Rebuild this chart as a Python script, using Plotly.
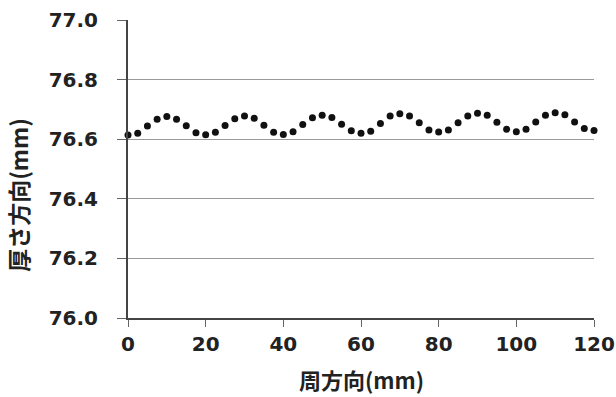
import plotly.graph_objects as go

x_pos = [i * 2.5 for i in range(49)]
thickness = [
    76.614, 76.620, 76.644, 76.667, 76.676, 76.667, 76.645, 76.622,
    76.615, 76.623, 76.646, 76.669, 76.678, 76.670, 76.647, 76.623,
    76.616, 76.625, 76.649, 76.672, 76.680, 76.673, 76.650, 76.628,
    76.620, 76.627, 76.653, 76.678, 76.685, 76.678, 76.655, 76.631,
    76.624, 76.631, 76.655, 76.678, 76.687, 76.680, 76.657, 76.633,
    76.625, 76.633, 76.658, 76.680, 76.689, 76.682, 76.658, 76.636,
    76.629,
]
x_ticks = [0, 20, 40, 60, 80, 100, 120]
y_ticks = [76.0, 76.2, 76.4, 76.6, 76.8, 77.0]
y_tick_text = ["76.0", "76.2", "76.4", "76.6", "76.8", "77.0"]

fig = go.Figure()
fig.add_trace(go.Scatter(
    x=x_pos, y=thickness, mode="markers",
    marker=dict(color="#111111", size=7),
    cliponaxis=False, showlegend=False,
))

tick_font = dict(family="DejaVu Sans", size=20, color="#222222", weight="bold")
fig.update_layout(
    width=616, height=397,
    margin=dict(l=128, r=22, t=20, b=79, autoexpand=False),
    paper_bgcolor="white", plot_bgcolor="white",
    xaxis=dict(
        range=[0, 120], tickvals=x_ticks, showgrid=False, zeroline=False,
        showline=True, linecolor="#444444", linewidth=2,
        ticks="outside", ticklen=7, tickcolor="#666666", tickwidth=1,
        tickfont=tick_font, automargin=False,
    ),
    yaxis=dict(
        range=[76.0, 77.0], tickvals=y_ticks, ticktext=y_tick_text,
        showgrid=True, gridcolor="#9a9a9a", gridwidth=1, zeroline=False,
        showline=True, linecolor="#444444", linewidth=2,
        ticks="outside", ticklen=9, tickcolor="#666666", tickwidth=1,
        tickfont=tick_font, automargin=False, ticklabelstandoff=15,
    ),
    annotations=[
        dict(text="周方向(mm)", xref="paper", yref="paper", x=0.5, y=-0.205,
             xanchor="center", yanchor="middle", showarrow=False,
             font=dict(family="Noto Sans CJK JP", size=22, color="#222222", weight="bold")),
        dict(text="厚さ方向(mm)", xref="paper", yref="paper", x=-0.235, y=0.415,
             xanchor="center", yanchor="middle", showarrow=False, textangle=-90,
             font=dict(family="Noto Sans CJK JP", size=23, color="#222222", weight="bold")),
    ],
)

fig.write_html("out.html")
